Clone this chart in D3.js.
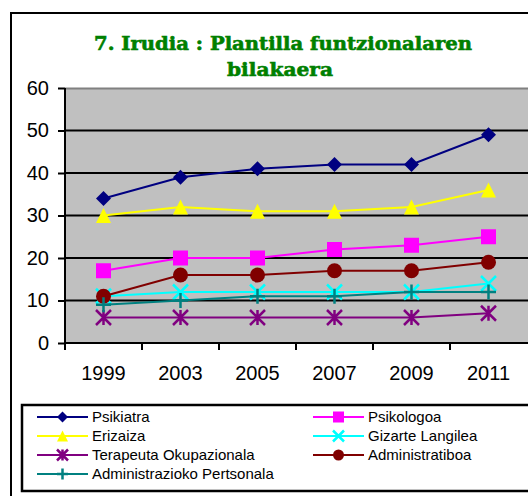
<!DOCTYPE html>
<html><head><meta charset="utf-8">
<script src="https://cdn.jsdelivr.net/npm/d3@7"></script>
<style>body{margin:0;background:#fff}svg{display:block}</style>
</head><body>
<svg id="c" width="528" height="496"></svg>
<script>
const years = ["1999","2003","2005","2007","2009","2011"];
const yTicks = [0,10,20,30,40,50,60];
const titleLines = ["7. Irudia : Plantilla funtzionalaren","bilakaera"];
const seriesNames = ["Psikiatra","Psikologoa","Erizaiza","Gizarte Langilea","Terapeuta Okupazionala","Administratiboa","Administrazioko Pertsonala"];
const psikiatra = [34,39,41,42,42,49];
const psikologoa = [17,20,20,22,23,25];
const erizaiza = [30,32,31,31,32,36];
const gizarte = [11,12,12,12,12,14];
const terapeuta = [6,6,6,6,6,7];
const administratiboa = [11,16,16,17,17,19];
const adminPertsonala = [9,10,11,11,12,12];
const seriesValues = [psikiatra,psikologoa,erizaiza,gizarte,terapeuta,administratiboa,adminPertsonala];
const colors = ["#000080","#FF00FF","#FFFF00","#00FFFF","#800080","#800000","#008080"];
const markers = ["diamond","square","triangle","x","star","circle","plus"];
const drawOrder = [0,2,1,3,4,5,6];

const svg = d3.select("#c");
svg.append("rect").attr("x",11).attr("y",13).attr("width",540).attr("height",500)
  .attr("fill","#fff").attr("stroke","#000").attr("stroke-width",2);

// title
[[titleLines[0],283,50,378],[titleLines[1],280,76,106]].forEach(([t,tx,ty,tl])=>{
  svg.append("text").attr("x",tx).attr("y",ty).attr("text-anchor","middle")
    .attr("font-family","DejaVu Serif").attr("font-weight","bold").attr("font-size",19)
    .attr("textLength",tl).attr("lengthAdjust","spacingAndGlyphs")
    .attr("fill","#008000").attr("stroke","#008000").attr("stroke-width",0.6).text(t);
});

const x = d3.scaleBand().domain(years).range([65,527]);
const y = d3.scaleLinear().domain([0,60]).range([343,88]);

svg.append("rect").attr("x",65).attr("y",88).attr("width",470).attr("height",255).attr("fill","#C0C0C0");
svg.append("line").attr("x1",65).attr("x2",535).attr("y1",88.5).attr("y2",88.5).attr("stroke","#808080").attr("stroke-width",2);
svg.append("g").selectAll("line").data(yTicks.filter(d=>d>0 && d<60)).join("line")
  .attr("x1",65).attr("x2",535).attr("y1",d=>y(d)).attr("y2",d=>y(d))
  .attr("stroke","#000").attr("stroke-width",2);

const ya = svg.append("g").attr("transform","translate(65,0)")
  .call(d3.axisLeft(y).tickValues(yTicks).tickSize(7).tickPadding(9));
ya.select(".domain").attr("stroke-width",2).attr("d","M0,88V344");
ya.selectAll(".tick line").attr("stroke-width",2);
ya.selectAll("text").attr("font-family","Liberation Sans, Arial").attr("font-size",20).attr("fill","#000");

const xa = svg.append("g").attr("transform","translate(0,343)")
  .call(d3.axisBottom(x).tickSize(0).tickPadding(23));
xa.select(".domain").attr("stroke-width",2).attr("d","M64,0H535");
xa.selectAll("text").attr("font-family","Liberation Sans, Arial").attr("font-size",20).attr("fill","#000");
svg.append("g").selectAll("line").data(years).join("line")
  .attr("x1",d=>x(d)).attr("x2",d=>x(d)).attr("y1",343).attr("y2",350)
  .attr("stroke","#000").attr("stroke-width",2);

function drawMarker(g, type, color, cx, cy, s){
  const h = s/2;
  if(type==="diamond"){
    g.append("path").attr("d",`M${cx},${cy-h}L${cx+h},${cy}L${cx},${cy+h}L${cx-h},${cy}Z`).attr("fill",color);
  } else if(type==="square"){
    g.append("rect").attr("x",cx-h).attr("y",cy-h).attr("width",s).attr("height",s).attr("fill",color);
  } else if(type==="triangle"){
    g.append("path").attr("d",`M${cx},${cy-h}L${cx+h},${cy+h}L${cx-h},${cy+h}Z`).attr("fill",color);
  } else if(type==="circle"){
    g.append("circle").attr("cx",cx).attr("cy",cy).attr("r",h).attr("fill",color);
  } else if(type==="x"){
    g.append("path").attr("d",`M${cx-h},${cy-h}L${cx+h},${cy+h}M${cx+h},${cy-h}L${cx-h},${cy+h}`).attr("stroke",color).attr("stroke-width",2.5);
  } else if(type==="star"){
    g.append("path").attr("d",`M${cx-h},${cy-h}L${cx+h},${cy+h}M${cx+h},${cy-h}L${cx-h},${cy+h}M${cx},${cy-h}L${cx},${cy+h}`).attr("stroke",color).attr("stroke-width",2.5);
  } else if(type==="plus"){
    g.append("path").attr("d",`M${cx},${cy-h}L${cx},${cy+h}M${cx-h},${cy}L${cx+h},${cy}`).attr("stroke",color).attr("stroke-width",2.5);
  }
}

const line = d3.line().x((d,i)=>x(years[i])+x.bandwidth()/2).y(d=>y(d));
const plot = svg.append("g");
drawOrder.forEach(k=>{
  const g = plot.append("g");
  g.append("path").attr("d",line(seriesValues[k])).attr("fill","none").attr("stroke",colors[k]).attr("stroke-width",2);
  seriesValues[k].forEach((v,i)=>drawMarker(g, markers[k], colors[k], x(years[i])+x.bandwidth()/2, y(v), 15));
});

svg.append("rect").attr("x",22).attr("y",405).attr("width",520).attr("height",86)
  .attr("fill","#fff").attr("stroke","#000").attr("stroke-width",2.5);
const lg = svg.append("g");
seriesNames.forEach((name,k)=>{
  const col = k%2, row = Math.floor(k/2);
  const lx = col===0 ? 37 : 313;
  const ly = 417 + row*19;
  const g = lg.append("g");
  g.append("line").attr("x1",lx).attr("x2",lx+51).attr("y1",ly).attr("y2",ly).attr("stroke",colors[k]).attr("stroke-width",2);
  drawMarker(g, markers[k], colors[k], lx+25.5, ly, 11);
  g.append("text").attr("x",lx+55).attr("y",ly).attr("dy","0.36em")
    .attr("font-family","Liberation Sans, Arial").attr("font-size",15).attr("fill","#000").text(name);
});
</script>
</body></html>
